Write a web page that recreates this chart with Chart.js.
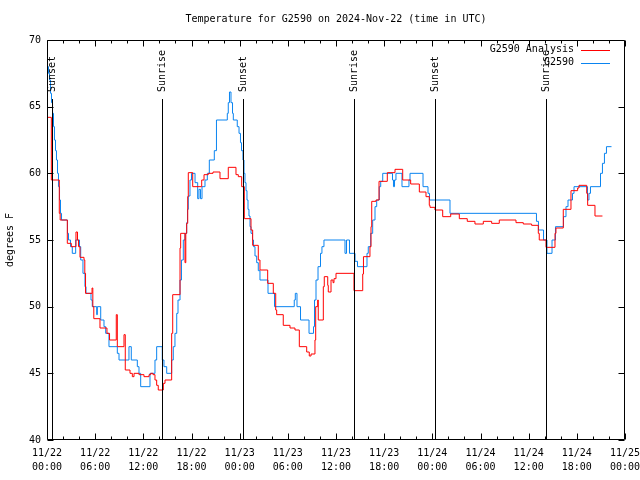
<!DOCTYPE html>
<html>
<head>
<meta charset="utf-8">
<script src="https://cdn.jsdelivr.net/npm/chart.js@4.4.1/dist/chart.umd.min.js"></script>
<style>
html, body { margin: 0; padding: 0; background: #fff; }
</style>
</head>
<body>
<canvas id="chart" width="640" height="480"></canvas>
<script>
const titleText = 'Temperature for G2590 on 2024-Nov-22 (time in UTC)';
const yTitle = 'degrees F';

// x values are hours after 11/22 00:00 UTC
const xTickLabels = [
    ['11/22', '00:00'], ['11/22', '06:00'], ['11/22', '12:00'], ['11/22', '18:00'],
    ['11/23', '00:00'], ['11/23', '06:00'], ['11/23', '12:00'], ['11/23', '18:00'],
    ['11/24', '00:00'], ['11/24', '06:00'], ['11/24', '12:00'], ['11/24', '18:00'],
    ['11/25', '00:00']
];

const sunHours = [0.58, 14.37, 24.45, 38.28, 48.33, 62.2];
const sunLabels = ['Sunset', 'Sunrise', 'Sunset', 'Sunrise', 'Sunset', 'Sunrise'];

const analysisName = 'G2590 Analysis';
const analysisHours = [0.00, 0.54, 1.53, 1.64, 2.53, 3.03, 3.61, 3.80, 3.92, 4.11, 4.61, 4.71, 4.80, 5.61, 5.71, 5.83,
    6.60, 7.47, 7.79, 8.63, 8.76, 9.59, 9.75, 10.34, 10.63, 10.84, 11.46, 12.08, 12.71, 12.92, 13.20, 13.45,
    13.66, 13.86, 14.49, 14.70, 15.53, 15.66, 16.57, 16.65, 17.19, 17.29, 17.40, 17.53, 17.60, 18.15, 19.27,
    19.56, 20.09, 20.68, 21.55, 22.58, 23.54, 23.83, 24.25, 24.58, 25.41, 25.62, 26.32, 26.53, 27.49, 28.19,
    28.49, 28.61, 29.43, 30.27, 30.89, 31.43, 32.35, 32.67, 32.89, 33.38, 33.47, 33.72, 33.79, 34.42, 34.54,
    34.97, 35.04, 35.38, 35.63, 35.75, 36.00, 38.24, 39.33, 39.42, 40.23, 40.36, 40.45, 40.98, 41.36, 42.39,
    43.35, 44.31, 45.30, 46.38, 47.21, 47.62, 47.71, 48.33, 49.29, 50.29, 51.36, 52.35, 53.31, 54.35, 55.39,
    56.34, 58.42, 59.33, 60.37, 61.20, 61.32, 62.16, 63.28, 63.40, 64.31, 65.27, 66.10, 66.27, 67.23, 67.35,
    68.26, 69.19];
const analysisTemps = [64.2, 59.5, 57.0, 56.5, 54.75, 54.5, 55.6, 55.0, 54.5, 53.7, 53.5, 52.5, 51.0, 51.4, 50.0, 49.1,
    48.4, 48.0, 47.5, 49.4, 47.0, 47.9, 45.25, 45.0, 44.75, 45.0, 44.9, 44.75, 44.9, 45.0, 44.9, 44.5,
    44.1, 43.75, 44.25, 44.5, 48.0, 50.9, 54.4, 55.5, 53.3, 55.5, 56.25, 58.25, 60.05, 59.0, 59.5,
    59.9, 60.0, 60.1, 59.6, 60.45, 59.9, 59.75, 59.0, 56.6, 55.75, 54.6, 53.5, 52.75, 51.75, 51.0,
    49.75, 49.4, 48.6, 48.4, 48.25, 47.0, 46.6, 46.3, 46.45, 47.5, 50.0, 50.5, 49.0, 51.5, 52.25,
    51.6, 51.1, 52.0, 51.8, 52.1, 52.5, 51.2, 52.45, 53.75, 54.5, 56.0, 57.9, 58.0, 59.4, 60.05,
    60.3, 59.5, 59.2, 58.6, 58.25, 57.6, 57.45, 57.25, 56.75, 56.95, 56.6, 56.4, 56.2, 56.4, 56.25,
    56.5, 56.3, 56.2, 56.1, 55.5, 55.0, 54.45, 55.5, 55.9, 57.3, 58.7, 58.9, 59.1, 58.5, 57.6,
    56.8, 56.8];

const stationName = 'G2590';
const stationHours = [0.00, 0.19, 0.31, 0.44, 0.56, 0.69, 0.81, 0.93, 1.06, 1.18, 1.31, 1.43, 1.56, 1.68, 1.81,
    2.55, 2.68, 2.93, 3.15, 3.57, 4.05, 4.20, 4.48, 4.73, 4.86, 5.48, 5.64, 6.19, 6.27, 6.69, 7.10, 7.31,
    7.72, 8.76, 8.97, 10.21, 10.50, 11.25, 11.46, 11.67, 12.83, 13.45, 13.66, 14.36, 14.57, 14.91, 15.53,
    15.73, 15.94, 16.16, 16.32, 16.57, 16.75, 16.98, 17.19, 17.40, 17.50, 17.60, 17.81, 18.00, 18.44, 18.77,
    18.93, 19.12, 19.31, 19.68, 19.97, 20.22, 20.84, 21.11, 22.46, 22.58, 22.73, 22.92, 23.11, 23.21, 23.70,
    23.92, 24.10, 24.23, 24.41, 24.54, 24.66, 24.79, 24.91, 25.04, 25.16, 25.29, 25.41, 25.60, 25.72, 25.91,
    26.12, 26.32, 26.53, 27.53, 28.34, 30.80, 30.93, 31.14, 31.58, 32.64, 33.20, 33.32, 33.51, 33.76, 34.07,
    34.25, 34.50, 37.12, 37.31, 37.68, 38.37, 38.68, 39.86, 40.02, 40.32, 40.57, 40.86, 41.07, 41.39, 41.57,
    41.82, 43.04, 43.16, 43.29, 43.47, 44.22, 45.09, 45.22, 46.84, 47.46, 47.65, 50.20, 60.97, 61.22, 61.85,
    62.28, 62.91, 63.34, 64.34, 64.65, 64.90, 65.46, 65.65, 67.33, 67.51, 67.70, 68.95, 69.19, 69.44, 69.69,
    70.32];
const stationTemps = [68.0, 67.5, 67.0, 66.0, 65.3, 64.5, 63.5, 62.5, 61.7, 61.0, 60.0, 59.0, 58.0, 57.0, 56.5,
    55.5, 55.0, 54.5, 54.0, 55.0, 54.5, 53.5, 52.5, 51.5, 51.0, 50.5, 50.0, 49.4, 50.0, 49.0, 48.5, 48.0,
    47.0, 46.5, 46.0, 47.0, 46.0, 45.5, 45.0, 44.0, 45.0, 46.0, 47.0, 46.0, 45.5, 45.0, 46.0,
    47.0, 48.0, 49.5, 50.5, 52.0, 53.5, 55.0, 55.5, 56.3, 57.3, 58.3, 59.5, 60.0, 59.3, 58.1,
    58.8, 58.1, 59.0, 59.5, 60.0, 61.0, 61.7, 64.0, 64.5, 65.3, 66.1, 65.3, 64.5, 64.0, 63.5,
    63.0, 62.3, 61.7, 61.0, 60.0, 59.3, 58.7, 58.0, 57.3, 56.8, 56.0, 55.5, 55.0, 54.5, 53.8,
    53.3, 52.7, 52.0, 51.0, 50.0, 50.5, 51.0, 50.0, 49.0, 48.0, 48.5, 50.5, 52.0, 53.0, 54.0,
    54.5, 55.0, 54.0, 55.0, 54.0, 53.4, 53.0, 54.0, 54.5, 55.5, 56.5, 57.5, 58.0, 59.0, 59.4,
    60.0, 59.5, 59.0, 59.5, 60.0, 59.0, 59.5, 60.0, 59.0, 58.5, 58.0, 57.0, 56.4, 55.75, 55.0,
    54.0, 55.0, 56.0, 56.75, 57.5, 58.0, 58.5, 59.0, 58.0, 58.5, 59.0, 60.0, 60.75, 61.5, 62.0,
    62.0];

const redColor = '#ff0000';
const blueColor = '#0a84f0';
const fontFamily = '"DejaVu Sans Mono", "Liberation Mono", monospace';

Chart.defaults.font.family = fontFamily;
Chart.defaults.font.size = 10;
Chart.defaults.color = '#000';

const toPoints = (xs, ys) => xs.map((h, i) => ({ x: h, y: ys[i] }));

// title, frame, inward ticks, sunrise/sunset markers and the key
const decorations = {
    id: 'decorations',
    afterDatasetsDraw(chart) {
        const { ctx, chartArea: a, scales: { x, y } } = chart;
        const L = Math.round(a.left) + 0.5, R = Math.round(a.right) - 0.5;
        const T = Math.round(a.top) + 0.5, B = Math.round(a.bottom) - 0.5;
        ctx.save();
        ctx.strokeStyle = '#000';
        ctx.lineWidth = 1;
        ctx.beginPath();
        sunHours.forEach(h => {
            const px = Math.round(x.getPixelForValue(h)) + 0.5;
            ctx.moveTo(px, a.top + 59);
            ctx.lineTo(px, B);
        });
        y.ticks.forEach(t => {
            const py = Math.round(y.getPixelForValue(t.value)) + 0.5;
            ctx.moveTo(L, py); ctx.lineTo(L + 6, py);
            ctx.moveTo(R, py); ctx.lineTo(R - 6, py);
        });
        for (let h = x.min; h <= x.max; h += 2) {
            const len = h % 6 === 0 ? 6 : 3;
            const px = Math.round(x.getPixelForValue(h)) + 0.5;
            ctx.moveTo(px, B); ctx.lineTo(px, B - len);
            ctx.moveTo(px, T); ctx.lineTo(px, T + len);
        }
        ctx.rect(L, T, R - L, B - T);
        ctx.stroke();

        ctx.fillStyle = '#000';
        ctx.font = '10px ' + fontFamily;
        ctx.textBaseline = 'middle';
        ctx.textAlign = 'center';
        ctx.fillText(titleText, (a.left + a.right) / 2, 19);

        sunHours.forEach((h, i) => {
            const px = Math.round(x.getPixelForValue(h)) + 0.5;
            ctx.save();
            ctx.translate(px, a.top + 52);
            ctx.rotate(-Math.PI / 2);
            ctx.textAlign = 'left';
            ctx.fillText(sunLabels[i], 0, 0);
            ctx.restore();
        });

        const keys = [[analysisName, redColor], [stationName, blueColor]];
        keys.forEach(([name, color], i) => {
            const ky = a.top + 9.5 + i * 13;
            ctx.textAlign = 'right';
            ctx.fillText(name, a.right - 51, ky);
            ctx.strokeStyle = color;
            ctx.beginPath();
            ctx.moveTo(a.right - 44, Math.round(ky) + 0.5);
            ctx.lineTo(a.right - 15, Math.round(ky) + 0.5);
            ctx.stroke();
        });
        ctx.restore();
    }
};

const ctx = document.getElementById('chart').getContext('2d');
const myChart = new Chart(ctx, {
    type: 'line',
    data: {
        datasets: [{
            label: analysisName,
            data: toPoints(analysisHours, analysisTemps),
            borderColor: redColor,
            borderWidth: 1,
            pointRadius: 0,
            stepped: true,
            fill: false
        }, {
            label: stationName,
            data: toPoints(stationHours, stationTemps),
            borderColor: blueColor,
            borderWidth: 1,
            pointRadius: 0,
            stepped: true,
            fill: false
        }]
    },
    options: {
        responsive: false,
        animation: false,
        layout: { padding: { left: 0, right: 15, top: 40, bottom: 0 } },
        scales: {
            x: {
                type: 'linear',
                min: 0,
                max: 72,
                grid: { display: false, drawTicks: false },
                border: { display: false },
                ticks: {
                    stepSize: 6,
                    autoSkip: false,
                    maxRotation: 0,
                    padding: 6,
                    font: { size: 10, lineHeight: 1.45 },
                    callback: v => xTickLabels[Math.round(v / 6)]
                },
                afterFit: scale => {
                    scale.height = 40;
                    scale.paddingLeft = 0;
                    scale.paddingRight = 0;
                }
            },
            y: {
                min: 40,
                max: 70,
                grid: { display: false, drawTicks: false },
                border: { display: false },
                ticks: { stepSize: 5, padding: 6 },
                title: { display: true, text: yTitle, font: { size: 10, lineHeight: 2 }, padding: 0 },
                afterFit: scale => {
                    scale.width = 47;
                    scale.paddingTop = 0;
                    scale.paddingBottom = 0;
                }
            }
        },
        plugins: {
            legend: { display: false },
            tooltip: { enabled: false },
            title: { display: false }
        }
    },
    plugins: [decorations]
});
</script>
</body>
</html>
